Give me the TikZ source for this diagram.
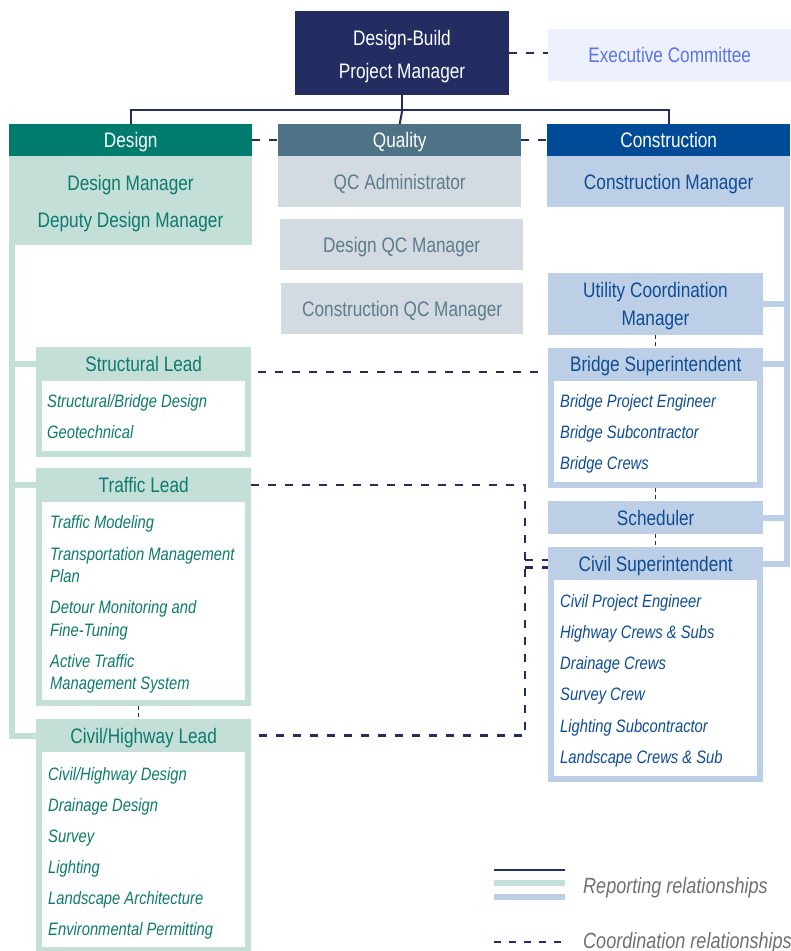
\documentclass[tikz,border=0pt]{standalone}
\usepackage{fontspec}
\setmainfont{Liberation Sans}[FakeStretch=0.82]
\definecolor{pmnavy}{HTML}{232D62}
\definecolor{exfill}{HTML}{EDF0FD}
\definecolor{extext}{HTML}{5A73E6}
\definecolor{dteal}{HTML}{007C6E}
\definecolor{dlight}{HTML}{C4DED8}
\definecolor{dtext}{HTML}{0D7B6D}
\definecolor{qslate}{HTML}{4E7386}
\definecolor{qlight}{HTML}{D3DAE1}
\definecolor{qtext}{HTML}{5D7C8C}
\definecolor{cblue}{HTML}{004B97}
\definecolor{clight}{HTML}{BDCFE6}
\definecolor{ctext}{HTML}{0E4D93}
\definecolor{lgray}{HTML}{707070}
\newcommand{\orgtitle}{\fontsize{21}{24}\selectfont}
\newcommand{\orgitem}{\fontsize{18}{22}\selectfont\itshape}
\newcommand{\orglegend}{\fontsize{22}{26}\selectfont\itshape}

\begin{document}
\begin{tikzpicture}[x=1pt, y=-1pt,
  box/.style={rectangle, inner sep=0pt, anchor=north west, font=\orgtitle, text height=15pt, text depth=0pt},
  txt/.style={inner sep=0pt, anchor=base, font=\orgtitle},
  item/.style={inner sep=0pt, anchor=base west, font=\orgitem},
  tree/.style={pmnavy, line width=2pt},
  coord/.style={pmnavy, line width=2.5pt, dash pattern=on 8pt off 9pt},
  link/.style={pmnavy, line width=1.5pt, dash pattern=on 4pt off 3pt},
  dbar/.style={dlight, line width=6pt},
  cbar/.style={clight, line width=6pt}]
\useasboundingbox (0,0) rectangle (791,951);

\node[box, fill=pmnavy, minimum width=214pt, minimum height=84pt] (pm) at (295,11) {};
\node[txt, text=white] (pm-1) at (402,45) {Design-Build};
\node[txt, text=white] (pm-2) at (402,78) {Project Manager};
\node[box, fill=exfill, text=extext, minimum width=243pt, minimum height=52pt] (exec) at (548,29) {Executive Committee};

\node[box, fill=dteal, text=white, minimum width=243pt, minimum height=32pt] (dhead) at (9,124) {Design};
\node[box, fill=dlight, minimum width=243pt, minimum height=89pt] (dbody) at (9,156) {};
\node[txt, text=dtext] (dbody-1) at (130.5,190) {Design Manager};
\node[txt, text=dtext] (dbody-2) at (130.5,227) {Deputy Design Manager};

\node[box, fill=qslate, text=white, minimum width=243pt, minimum height=32pt] (qhead) at (278,124) {Quality};
\node[box, fill=qlight, text=qtext, minimum width=243pt, minimum height=51pt] (qcadmin) at (278,156) {QC Administrator};
\node[box, fill=qlight, text=qtext, minimum width=243pt, minimum height=51pt] (qcdesign) at (280,219) {Design QC Manager};
\node[box, fill=qlight, text=qtext, minimum width=242pt, minimum height=51pt] (qcconst) at (281,283) {Construction QC Manager};

\node[box, fill=cblue, text=white, minimum width=243pt, minimum height=32pt] (chead) at (547,124) {Construction};
\node[box, fill=clight, text=ctext, minimum width=243pt, minimum height=51pt] (cbody) at (547,156) {Construction Manager};

\node[box, fill=clight, minimum width=215pt, minimum height=62pt] (ucm) at (548,273) {};
\node[txt, text=ctext] (ucm-1) at (655.5,297) {Utility Coordination};
\node[txt, text=ctext] (ucm-2) at (655.5,325) {Manager};

\node[box, fill=clight, minimum width=215pt, minimum height=140pt] (bsbox) at (548,348) {};
\node[box, text=ctext, minimum width=215pt, minimum height=32pt] (bshead) at (548,348) {Bridge Superintendent};
\node[box, fill=white, minimum width=203pt, minimum height=101pt] (bslist) at (554,381) {};
\foreach \t [count=\i] in {Bridge Project Engineer, Bridge Subcontractor, Bridge Crews}
  \node[item, text=ctext] (bs-\i) at (560,376+31*\i) {\t};

\node[box, fill=clight, text=ctext, minimum width=215pt, minimum height=33pt] (sched) at (548,501) {Scheduler};

\node[box, fill=clight, minimum width=215pt, minimum height=235pt] (csbox) at (548,547) {};
\node[box, text=ctext, minimum width=215pt, minimum height=33pt] (cshead) at (548,547) {Civil Superintendent};
\node[box, fill=white, minimum width=203pt, minimum height=196pt] (cslist) at (554,580) {};
\foreach \t [count=\i] in {Civil Project Engineer, Highway Crews \& Subs, Drainage Crews, Survey Crew, Lighting Subcontractor, Landscape Crews \& Sub}
  \node[item, text=ctext] (cs-\i) at (560,576+31.2*\i) {\t};

\node[box, fill=dlight, minimum width=215pt, minimum height=110pt] (slbox) at (36,347) {};
\node[box, text=dtext, minimum width=215pt, minimum height=34pt] (slhead) at (36,347) {Structural Lead};
\node[box, fill=white, minimum width=203pt, minimum height=70pt] (sllist) at (42,381) {};
\foreach \t [count=\i] in {Structural/Bridge Design, Geotechnical}
  \node[item, text=dtext] (sl-\i) at (47,376+31*\i) {\t};

\node[box, fill=dlight, minimum width=215pt, minimum height=238pt] (trbox) at (36,468) {};
\node[box, text=dtext, minimum width=215pt, minimum height=34pt] (trhead) at (36,468) {Traffic Lead};
\node[box, fill=white, minimum width=203pt, minimum height=198pt] (trlist) at (42,502) {};
\foreach \y/\t [count=\i] in {528/Traffic Modeling, 560/Transportation Management, 582/Plan, 613/Detour Monitoring and, 636/Fine-Tuning, 667/Active Traffic, 689/Management System}
  \node[item, text=dtext] (tr-\i) at (50,\y) {\t};

\node[box, fill=dlight, minimum width=215pt, minimum height=232pt] (chbox) at (36,719) {};
\node[box, text=dtext, minimum width=215pt, minimum height=33pt] (chhead) at (36,719) {Civil/Highway Lead};
\node[box, fill=white, minimum width=203pt, minimum height=195pt] (chlist) at (42,752) {};
\foreach \t [count=\i] in {Civil/Highway Design, Drainage Design, Survey, Lighting, Landscape Architecture, Environmental Permitting}
  \node[item, text=dtext] (ch-\i) at (48,749+31*\i) {\t};

\draw[tree] (pm.south) -- ++(0,15) coordinate (bus);
\draw[tree] (dhead.north) |- (bus) -| (chead.north);
\draw[tree] (bus) -- (qhead.north);

\draw[dbar] ([xshift=3pt]dbody.south west) |- (chhead.west);
\draw[dbar] ([xshift=3pt]dbody.south west) |- (slhead.west);
\draw[dbar] ([xshift=3pt]dbody.south west) |- (trhead.west);

\draw[cbar] ([xshift=-3pt]cbody.south east) |- (cshead.east);
\draw[cbar] ([xshift=-3pt]cbody.south east) |- (ucm.east);
\draw[cbar] ([xshift=-3pt]cbody.south east) |- (bshead.east);
\draw[cbar] ([xshift=-3pt]cbody.south east) |- (sched.east);

\draw[coord] (pm.east) -- (exec.west |- pm.east);
\draw[coord] (dhead.east) -- (qhead.west);
\draw[coord] (qhead.east) -- (chead.west);
\draw[coord] ([xshift=7pt, yshift=-8pt]slhead.east) -- ([xshift=-5pt, yshift=-8pt]bshead.west);
\coordinate (cjog) at (525,0);
\draw[coord] (trhead.east) -- (trhead.east -| cjog) -- (chhead.east -| cjog) -- (chhead.east);
\draw[coord, double=white, double distance=5pt] (cshead.west -| cjog) -- (cshead.west);

\draw[link] (ucm.south) -- (bshead.north);
\draw[link] (bsbox.south) -- (sched.north);
\draw[link] (sched.south) -- (csbox.north);
\draw[link] ([xshift=-5pt]trbox.south) -- ([xshift=-5pt]chbox.north);

\coordinate (lg-1a) at (494,870);
\coordinate (lg-1b) at (565,870);
\coordinate (lg-2a) at (494,883);
\coordinate (lg-2b) at (565,883);
\coordinate (lg-3a) at (494,897);
\coordinate (lg-3b) at (565,897);
\coordinate (lg-4a) at (494,942);
\coordinate (lg-4b) at (565,942);
\draw[tree] (lg-1a) -- (lg-1b);
\draw[dbar] (lg-2a) -- (lg-2b);
\draw[cbar] (lg-3a) -- (lg-3b);
\draw[coord, line width=2pt, dash pattern=on 7pt off 8pt] (lg-4a) -- (lg-4b);
\node[item, font=\orglegend, text=lgray] (lg-rep) at (583,893) {Reporting relationships};
\node[item, font=\orglegend, text=lgray] (lg-coo) at (583,948) {Coordination relationships};
\end{tikzpicture}
\end{document}
